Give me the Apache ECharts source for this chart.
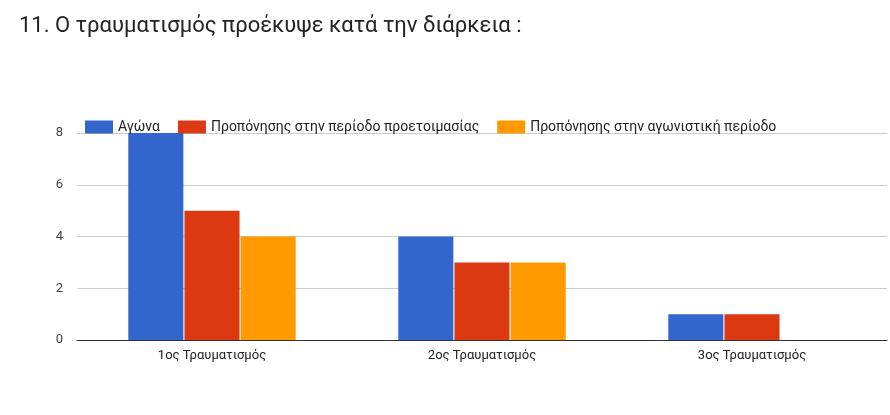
<!DOCTYPE html><html><head><meta charset="utf-8">
<script src="https://cdn.jsdelivr.net/npm/echarts@6/dist/echarts.min.js"></script>
<style>body{margin:0}#c{width:890px;height:415px}</style></head><body><div id="c"></div>
<script>
const categories=['1ος Τραυματισμός','2ος Τραυματισμός','3ος Τραυματισμός'];
const seriesNames=['Αγώνα','Προπόνησης στην περίοδο προετοιμασίας','Προπόνησης στην αγωνιστική περίοδο'];
const agona=[8,4,1];
const proetoimasia=[5,3,1];
const agonistiki=[4,3,0];
const yTicks=[0,2,4,6,8];
const colors=['#3366cc','#dc3912','#ff9900'];
const data=[agona,proetoimasia,agonistiki];
const chart=echarts.init(document.getElementById('c'));
chart.setOption({
 animation:false,
 title:{text:'11. Ο τραυματισμός προέκυψε κατά την διάρκεια :',left:14,top:10,textStyle:{fontFamily:'Roboto',fontSize:22,fontWeight:'normal',color:'#222'}},
 legend:{left:80,top:115,itemWidth:28,itemHeight:13,itemGap:18,icon:'rect',textStyle:{fontFamily:'Roboto',fontSize:14,color:'#222'},data:seriesNames},
 grid:{left:77,right:3,top:133,bottom:75},
 xAxis:{type:'category',data:categories,axisTick:{show:false},axisLine:{lineStyle:{color:'#333'}},axisLabel:{fontFamily:'Roboto',fontSize:13,color:'#222',margin:9}},
 yAxis:{type:'value',min:yTicks[0],max:yTicks[yTicks.length-1],interval:2,axisLabel:{fontFamily:'Roboto',fontSize:13,color:'#444',margin:14},splitLine:{lineStyle:{color:'#ccc'}}},
 series:seriesNames.map((n,i)=>({name:n,type:'bar',data:data[i],itemStyle:{color:colors[i]},barGap:'2%',barCategoryGap:'38%'}))
});
</script></body></html>
